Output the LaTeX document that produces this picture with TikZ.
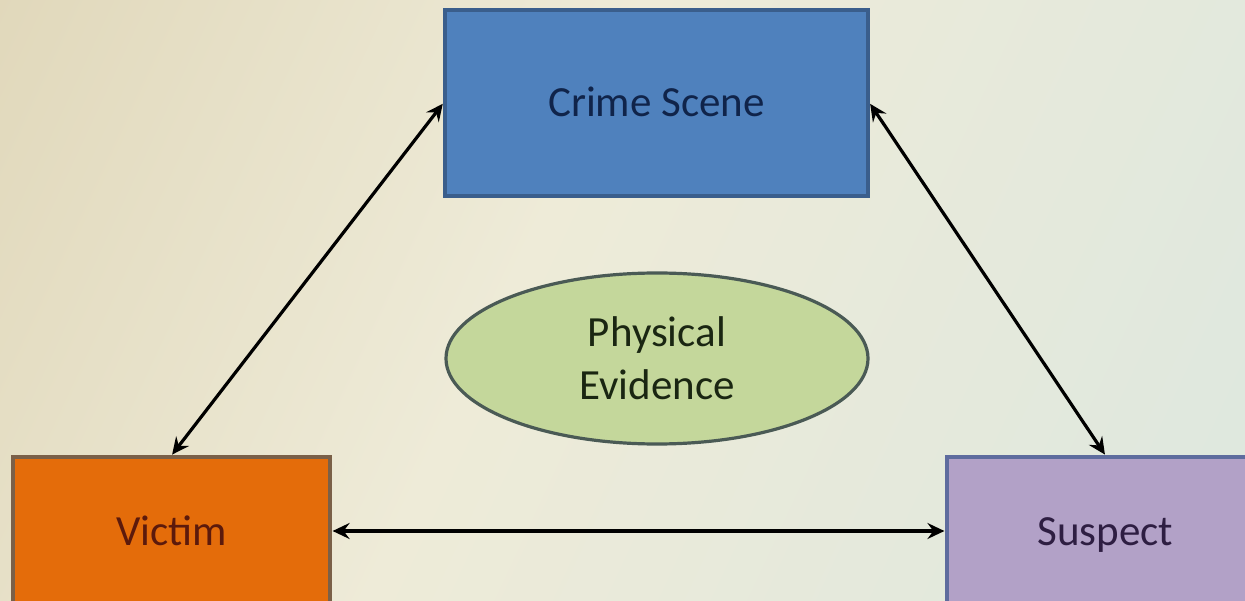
\documentclass[tikz,border=0pt]{standalone}
\usepackage{fontspec}
\setmainfont{Carlito}
\usetikzlibrary{shapes.geometric,arrows.meta}
\definecolor{bgA}{HTML}{D9CDAA}
\definecolor{bgB}{HTML}{EEEBD8}
\definecolor{bgC}{HTML}{D6E6E2}
\definecolor{csfill}{HTML}{4F81BD}
\definecolor{csdraw}{HTML}{3A5E8C}
\definecolor{cstext}{HTML}{10244A}
\definecolor{vfill}{HTML}{E46C0A}
\definecolor{vdraw}{HTML}{7A6048}
\definecolor{vtext}{HTML}{5C1A0C}
\definecolor{sfill}{HTML}{B2A1C7}
\definecolor{sdraw}{HTML}{5E6C9E}
\definecolor{stext}{HTML}{2E1E42}
\definecolor{efill}{HTML}{C4D79B}
\definecolor{edraw}{HTML}{4A5A55}
\definecolor{etext}{HTML}{1A2612}
\pgfdeclarehorizontalshading{bgshade}{100bp}{color(0bp)=(bgA); color(45bp)=(bgB); color(100bp)=(bgC)}
\tikzset{
  box/.style={rectangle, line width=3.2pt, inner sep=0pt, text height=28pt, text depth=0pt, font=\fontsize{43}{53}\selectfont},
  link/.style={line width=3.2pt, black, {Stealth[length=17pt,width=16pt,inset=6pt]}-{Stealth[length=17pt,width=16pt,inset=6pt]}, shorten <=1pt, shorten >=1pt}
}
\begin{document}
\begin{tikzpicture}[x=1pt,y=-1pt]
\useasboundingbox (0,0) rectangle (1245,601);
\clip (0,0) rectangle (1245,601);
\shade[shading=bgshade, shading angle=-25] (0,0) rectangle (1245,601);
\node[box, fill=csfill, draw=csdraw, text=cstext, minimum width=423pt, minimum height=186pt] (cs) at (656.5,103) {Crime Scene};
\node[box, fill=vfill, draw=vdraw, text=vtext, minimum width=317pt, minimum height=148pt] (v) at (171.5,531) {Victim};
\node[box, fill=sfill, draw=sdraw, text=stext, minimum width=317pt, minimum height=148pt] (s) at (1105.5,531) {Suspect};
\node[ellipse, line width=3.2pt, fill=efill, draw=edraw, text=etext, minimum width=422pt, minimum height=171pt, inner sep=0pt, align=center, font=\fontsize{43}{53}\selectfont] (e) at (657,358.5) {Physical\\Evidence};
\draw[link] (cs.west) -- (v.north);
\draw[link] (cs.east) -- (s.north);
\draw[link] (v.east) -- (s.west);
\end{tikzpicture}
\end{document}
